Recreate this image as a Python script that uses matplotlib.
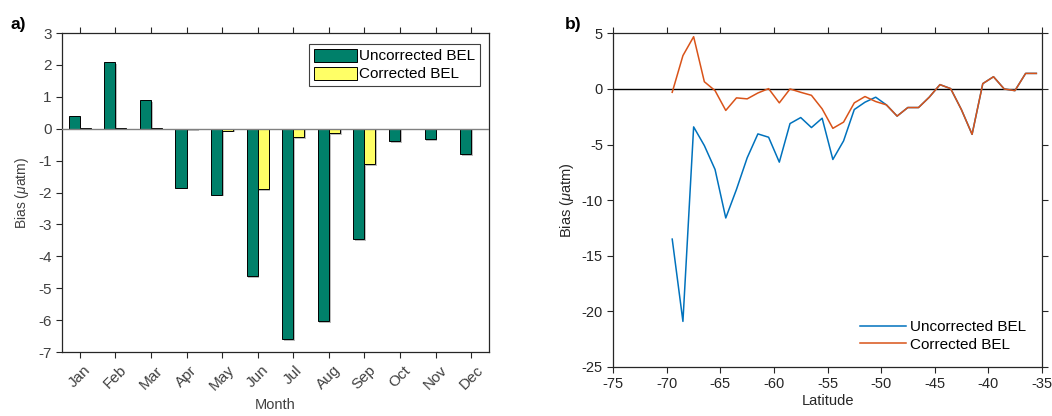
import numpy as np
import matplotlib
matplotlib.use("Agg")
import matplotlib.pyplot as plt
import matplotlib.patheffects as pe

plt.rcParams['font.family'] = ['Liberation Sans', 'DejaVu Sans']
plt.rcParams['axes.unicode_minus'] = False
plt.rcParams['mathtext.fontset'] = 'custom'
plt.rcParams['mathtext.it'] = 'Liberation Sans:italic'
plt.rcParams['mathtext.rm'] = 'Liberation Sans'

# monthly mean bias (uatm)
months = ['Jan', 'Feb', 'Mar', 'Apr', 'May', 'Jun', 'Jul', 'Aug', 'Sep', 'Oct', 'Nov', 'Dec']
bias_uncorr = [0.40, 2.08, 0.90, -1.85, -2.07, -4.62, -6.59, -6.03, -3.46, -0.39, -0.32, -0.80]
bias_corr = [0.01, 0.01, 0.01, -0.01, -0.06, -1.89, -0.26, -0.14, -1.11, 0.0, 0.0, 0.0]

# bias binned by latitude
lat = [-69.5, -68.5, -67.5, -66.5, -65.5, -64.5, -63.5, -62.5, -61.5, -60.5,
       -59.5, -58.5, -57.5, -56.5, -55.5, -54.5, -53.5, -52.5, -51.5, -50.5,
       -49.5, -48.5, -47.5, -46.5, -45.5, -44.5, -43.5, -42.5, -41.5, -40.5,
       -39.5, -38.5, -37.5, -36.5, -35.5]
lat_uncorr = [-13.5, -20.9, -3.41, -5.09, -7.24, -11.6, -9.03, -6.19, -4.04, -4.34,
              -6.58, -3.11, -2.57, -3.47, -2.63, -6.34, -4.67, -1.85, -1.19, -0.74,
              -1.43, -2.44, -1.67, -1.67, -0.74, 0.39, 0.03, -1.85, -4.08, 0.48,
              1.10, 0.0, -0.15, 1.40, 1.40]
lat_corr = [-0.30, 3.0, 4.70, 0.65, -0.15, -1.93, -0.80, -0.89, -0.36, 0.03,
            -1.25, 0.0, -0.30, -0.57, -1.79, -3.54, -2.98, -1.25, -0.68, -1.13,
            -1.43, -2.44, -1.67, -1.67, -0.74, 0.39, 0.03, -1.85, -4.08, 0.48,
            1.10, 0.0, -0.15, 1.40, 1.40]

txt = '#262626'
fig = plt.figure(figsize=(10.52, 4.16), dpi=100)

# ---- a) monthly bars ----
ax1 = fig.add_axes([0.0589, 0.1538, 0.4059, 0.7668])
x = np.arange(len(months))
w = 0.31
shadow = [pe.SimplePatchShadow(offset=(1.2, -1.2), shadow_rgbFace='#909090', alpha=0.6), pe.Normal()]
b1 = ax1.bar(x - w / 2, bias_uncorr, w, color='#00806A', edgecolor='black', linewidth=0.7,
             label='Uncorrected BEL', zorder=3)
b2 = ax1.bar(x + w / 2, bias_corr, w, color='#FFFF66', edgecolor='black', linewidth=0.7,
             label='Corrected BEL', zorder=3)
for p in list(b1) + list(b2):
    p.set_path_effects(shadow)
ax1.axhline(0, color='#808080', lw=1.0, zorder=4)
ax1.set_xlim(-0.5, 11.5)
ax1.set_ylim(-7, 3)
ax1.set_yticks(range(-7, 4))
ax1.set_xticks(x)
ax1.set_xticklabels(months, rotation=45, ha='center')
ax1.tick_params(axis='x', top=True, direction='out', length=4, color=txt, labelsize=11,
                labelcolor='#404040', pad=4)
ax1.tick_params(axis='y', direction='out', length=4, color=txt, labelsize=11, labelcolor='#404040')
ax1.set_xlabel('Month', fontsize=10.5, color='#404040', labelpad=3)
ax1.set_ylabel(r'Bias ($\mu$atm)', fontsize=10, color='#404040', labelpad=5)
for s in ax1.spines.values():
    s.set_color(txt)
    s.set_linewidth(0.9)
leg1 = ax1.legend(loc='upper right', bbox_to_anchor=(0.985, 0.975), fontsize=11,
                  handlelength=2.8, handleheight=0.95, fancybox=False, framealpha=1,
                  edgecolor='#404040', borderpad=0.3, labelspacing=0.2, handletextpad=0.15,
                  borderaxespad=0.2)
leg1.get_frame().set_linewidth(0.8)

# ---- b) bias vs latitude ----
ax2 = fig.add_axes([0.583, 0.1178, 0.4072, 0.802])
ax2.plot(lat, lat_uncorr, color='#0072BD', lw=1.1, label='Uncorrected BEL')
ax2.plot(lat, lat_corr, color='#D95319', lw=1.1, label='Corrected BEL')
ax2.axhline(0, color='black', lw=1.0, zorder=1)
ax2.set_xlim(-75, -35)
ax2.set_ylim(-25, 5)
ax2.set_xticks(range(-75, -34, 5))
ax2.set_yticks(range(-25, 6, 5))
ax2.tick_params(direction='out', length=4, top=True, right=True, color=txt,
                labelsize=10.5, labelcolor=txt)
ax2.set_xlabel('Latitude', fontsize=10.5, color=txt, labelpad=2)
ax2.set_ylabel(r'Bias ($\mu$atm)', fontsize=10.5, color=txt, labelpad=4)
for s in ax2.spines.values():
    s.set_color(txt)
    s.set_linewidth(0.9)
ax2.legend(loc='lower right', frameon=False, fontsize=11, handlelength=3.0,
           handletextpad=0.3, labelspacing=0.25, borderaxespad=0.6)

fig.text(0.010, 0.930, 'a)', fontsize=12.5, fontweight='bold', color='black')
fig.text(0.537, 0.930, 'b)', fontsize=12.5, fontweight='bold', color='black')

fig.savefig('out.png', dpi=100)
